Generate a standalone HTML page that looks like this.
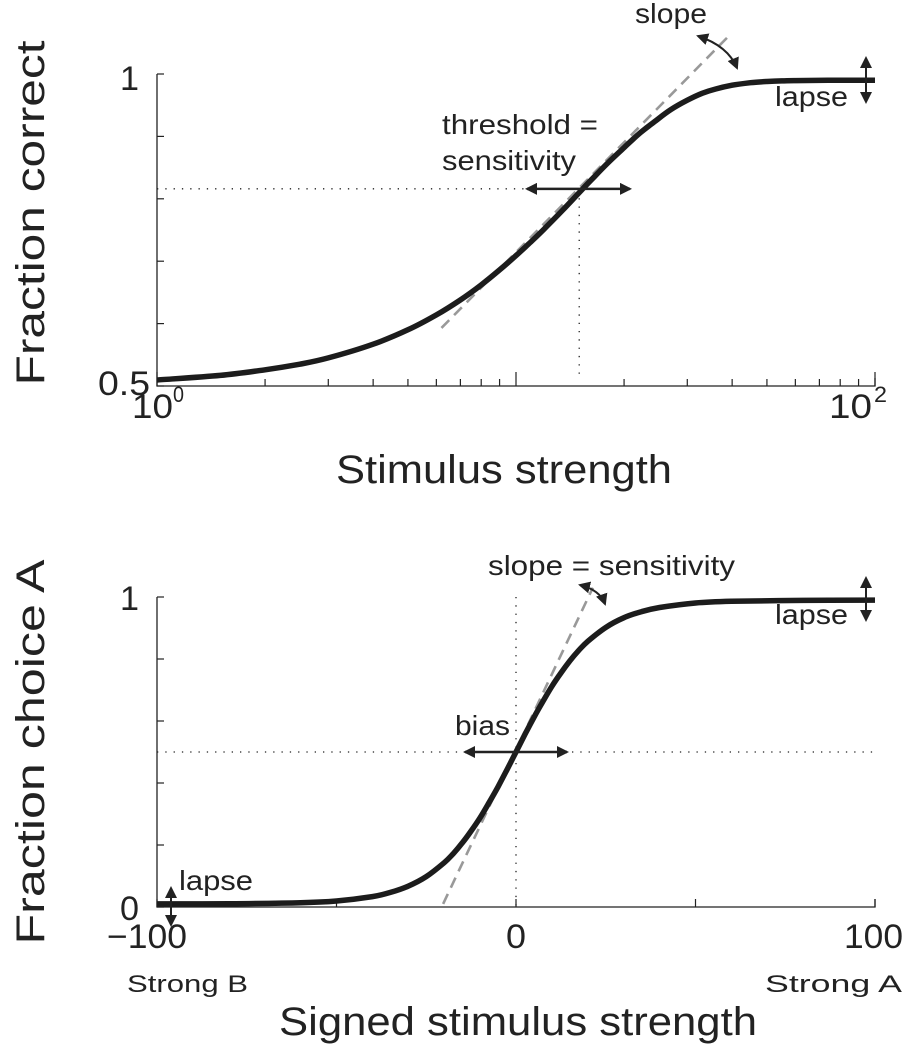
<!DOCTYPE html>
<html><head><meta charset="utf-8"><style>
body{margin:0;background:#fff}
svg{display:block;font-family:"Liberation Sans",Arial,sans-serif}
</style></head><body>
<svg id="fig" width="903" height="1050" viewBox="0 0 903 1050">
<defs>
<marker id="ah2" markerWidth="12" markerHeight="12" refX="10" refY="6" orient="auto-start-reverse" markerUnits="userSpaceOnUse"><path d="M0,0 L12,6 L0,12 Z" fill="#222"/></marker>
</defs>
<g id="top"></g>
<g id="bot"></g>
</svg>
<script>
// top chart data
const topX=[1,1.5,2,2.5,3,4,5,6,7,8,9,10,11,12,13.5,15,16.5,18,20,22,24.5,27,30,33,36,40,45,50,55,60,75,100];
const topY=[0.5096,0.517,0.526,0.535,0.545,0.567,0.590,0.614,0.638,0.662,0.686,0.709,0.731,0.752,0.782,0.810,0.835,0.857,0.882,0.904,0.925,0.943,0.958,0.969,0.976,0.982,0.986,0.988,0.989,0.9895,0.99,0.99];
const topTangentX=[6.2,38.7];
const topTangentY=[0.593,1.058];
const topThreshold=[15,0.816];
const topYTicks=[0.5,0.6,0.7,0.8,0.9,1];
const topYLabels=["0.5","","","","","1"];
// bottom chart data
const botX=[-100,-80,-60,-50,-40,-35,-30,-25,-20,-17.5,-15,-12.5,-10,-7.5,-5,-2.5,0,2.5,5,7.5,10,12.5,15,17.5,20,25,30,35,40,50,60,80,100];
const botY=[0.0101,0.0106,0.0138,0.0195,0.0337,0.047,0.0673,0.098,0.143,0.172,0.206,0.245,0.288,0.337,0.388,0.443,0.5,0.557,0.612,0.663,0.712,0.755,0.794,0.828,0.857,0.902,0.933,0.953,0.966,0.9805,0.986,0.989,0.990];
const botTangentX=[-20.3,21.4];
const botTangentY=[0.01,1.03];
const botBias=[0,0.5];
const botXTicks=[-100,-50,0,50,100];
const botXLabels=["\u2212100","","0","","100"];
const botYTicks=[0,0.2,0.4,0.6,0.8,1];
const botYLabels=["0","","","","","1"];

const NS="http://www.w3.org/2000/svg";
function mk(p,t,a,txt){const e=document.createElementNS(NS,t);for(const k in a)e.setAttribute(k,a[k]);if(txt!==undefined)e.textContent=txt;p.appendChild(e);return e;}
function tl(p,x,y,size,w,txt,anchor,extra){const a={x:x,y:y,'font-size':size,fill:'#222',textLength:w,lengthAdjust:'spacingAndGlyphs'};if(anchor)a['text-anchor']=anchor;if(extra)Object.assign(a,extra);return mk(p,'text',a,txt);}
function smooth(pts){let d='M'+pts[0][0].toFixed(1)+','+pts[0][1].toFixed(1);
 for(let i=0;i<pts.length-1;i++){const p0=pts[i-1]||pts[i],p1=pts[i],p2=pts[i+1],p3=pts[i+2]||p2;
 d+=` C${(p1[0]+(p2[0]-p0[0])/6).toFixed(1)},${(p1[1]+(p2[1]-p0[1])/6).toFixed(1)} ${(p2[0]-(p3[0]-p1[0])/6).toFixed(1)},${(p2[1]-(p3[1]-p1[1])/6).toFixed(1)} ${p2[0].toFixed(1)},${p2[1].toFixed(1)}`;}
 return d;}
const L=157,R=875;
const tx=v=>L+(Math.log10(v)/2)*(R-L);
const ty=v=>386-(v-0.5)/0.5*312;
const bx=v=>L+(v+100)/200*(R-L);
const by=v=>907-v*310;

const T=document.getElementById('top');
let e;
e=mk(T,'path',{d:`M${L},${ty(1)} L${L},${ty(0.5)} L${R},${ty(0.5)} L${R},${ty(0.5)-8}`,fill:'none',stroke:'#222','stroke-width':1.3});


topYTicks.forEach((t,i)=>{
 e=mk(T,'line',{x1:L,x2:L+7,y1:ty(t),y2:ty(t),stroke:'#222','stroke-width':1.2});
 
 
});
e=tl(T,98,395,34,52,topYLabels[0]);

e=tl(T,120,90,34,19,topYLabels[5]);

for(let d=1;d<=100;d*=10){for(let m=1;m<10;m++){const v=d*m;if(v>100)break;const major=(m===1);
 e=mk(T,'line',{x1:tx(v),x2:tx(v),y1:ty(0.5),y2:ty(0.5)-(major?14:7),stroke:'#222','stroke-width':1.2});
 
 }}
e=tl(T,132,418,34,41,'10');

tl(T,173,402,22,11,'0');
e=tl(T,829,418,34,43,'10');

tl(T,874,402,22,13,'2');
e=tl(T,336,483,40,336,'Stimulus strength');

e=tl(T,0,0,40,345,'Fraction correct','middle',{transform:'translate(44,213) rotate(-90)'});

e=mk(T,'path',{d:`M${L},${ty(topThreshold[1])} L${tx(topThreshold[0])},${ty(topThreshold[1])} L${tx(topThreshold[0])},${ty(0.5)-12}`,fill:'none',stroke:'#222','stroke-width':1.3,'stroke-dasharray':'1.3 7'});

e=mk(T,'line',{x1:tx(topTangentX[0]),y1:ty(topTangentY[0]),x2:tx(topTangentX[1]),y2:ty(topTangentY[1]),stroke:'#999','stroke-width':2.6,'stroke-dasharray':'11 7'});

e=mk(T,'path',{d:smooth(topX.map((x,i)=>[tx(x),ty(topY[i])])),fill:'none',stroke:'#1c1c1c','stroke-width':5.5,'stroke-linejoin':'round'});

e=mk(T,'line',{x1:527,y1:ty(topThreshold[1]),x2:630,y2:ty(topThreshold[1]),stroke:'#222','stroke-width':2.5,'marker-start':'url(#ah2)','marker-end':'url(#ah2)'});

e=tl(T,442,134,28,156,'threshold =');

tl(T,442,170,28,134,'sensitivity');
e=tl(T,635,23,28,72,'slope');

e=mk(T,'path',{d:'M698,36 Q728,46 737,68',fill:'none',stroke:'#222','stroke-width':2,'marker-start':'url(#ah2)','marker-end':'url(#ah2)'});

e=mk(T,'line',{x1:866,y1:58,x2:866,y2:102,stroke:'#222','stroke-width':2,'marker-start':'url(#ah2)','marker-end':'url(#ah2)'});

e=tl(T,775,106,28,73,'lapse');


const B=document.getElementById('bot');
e=mk(B,'path',{d:`M${L},${by(1)} L${L},${by(0)} L${R},${by(0)} L${R},${by(0)-8}`,fill:'none',stroke:'#222','stroke-width':1.3});

botYTicks.forEach((t,i)=>{
 e=mk(B,'line',{x1:L,x2:L+7,y1:by(t),y2:by(t),stroke:'#222','stroke-width':1.2});
 
 
 if(botYLabels[i]){e=tl(B,120,by(t)+13,34,19,botYLabels[i]);
 
 }
});
const xlw=[80,0,20,0,59];
const xlx=[107,0,506,0,844];
botXTicks.forEach((t,i)=>{
 e=mk(B,'line',{x1:bx(t),x2:bx(t),y1:by(0),y2:by(0)-8,stroke:'#222','stroke-width':1.2});
 
 
 if(botXLabels[i]){e=tl(B,xlx[i],948,34,xlw[i],botXLabels[i]);
 
 }
});
e=tl(B,127,992,24,121,'Strong B');

e=tl(B,765,992,24,137,'Strong A');

e=tl(B,279,1035,40,478,'Signed stimulus strength');

e=tl(B,0,0,40,385,'Fraction choice A','middle',{transform:'translate(44,752) rotate(-90)'});

e=mk(B,'line',{x1:L,x2:R,y1:by(botBias[1]),y2:by(botBias[1]),stroke:'#222','stroke-width':1.3,'stroke-dasharray':'1.3 7'});

e=mk(B,'line',{x1:bx(botBias[0]),x2:bx(botBias[0]),y1:by(1),y2:by(0),stroke:'#222','stroke-width':1.3,'stroke-dasharray':'1.3 7'});

e=mk(B,'line',{x1:bx(botTangentX[0]),y1:by(botTangentY[0]),x2:bx(botTangentX[1]),y2:by(botTangentY[1]),stroke:'#999','stroke-width':2.6,'stroke-dasharray':'11 7'});

e=mk(B,'path',{d:smooth(botX.map((x,i)=>[bx(x),by(botY[i])])),fill:'none',stroke:'#1c1c1c','stroke-width':5.5,'stroke-linejoin':'round'});

e=mk(B,'line',{x1:465,y1:by(0.5),x2:567,y2:by(0.5),stroke:'#222','stroke-width':2.5,'marker-start':'url(#ah2)','marker-end':'url(#ah2)'});

e=tl(B,455,735,28,55,'bias');

e=tl(B,488,575,28,247,'slope = sensitivity');

e=mk(B,'path',{d:'M580,585 Q600,590 605,604',fill:'none',stroke:'#222','stroke-width':2,'marker-start':'url(#ah2)','marker-end':'url(#ah2)'});

e=mk(B,'line',{x1:866,y1:578,x2:866,y2:620,stroke:'#222','stroke-width':2,'marker-start':'url(#ah2)','marker-end':'url(#ah2)'});

e=tl(B,775,624,28,73,'lapse');

e=mk(B,'line',{x1:171,y1:888,x2:171,y2:925,stroke:'#222','stroke-width':2,'marker-start':'url(#ah2)','marker-end':'url(#ah2)'});

e=tl(B,179,890,28,74,'lapse');

</script>
</body></html>
